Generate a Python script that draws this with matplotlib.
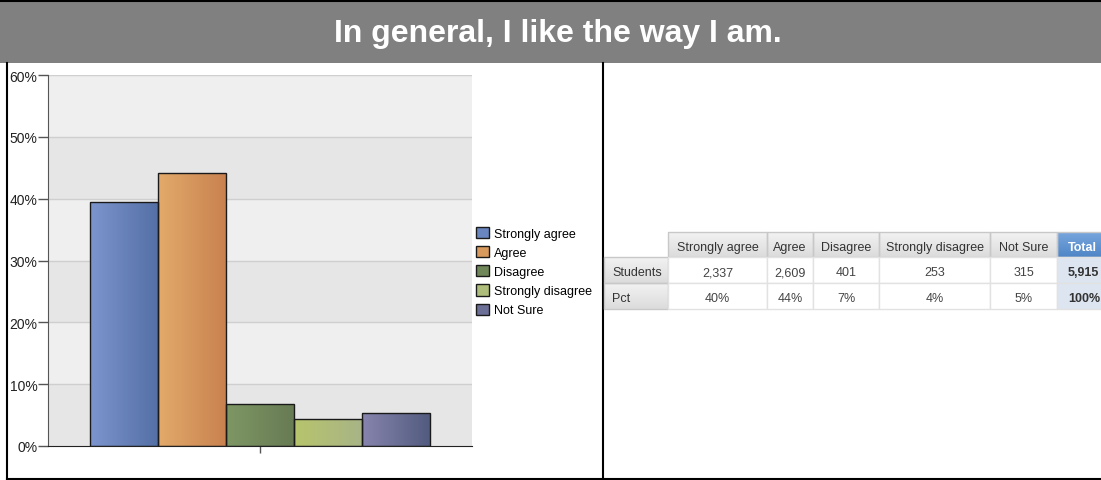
import numpy as np
import matplotlib
matplotlib.use("Agg")
import matplotlib.pyplot as plt
from matplotlib.patches import Rectangle
from matplotlib.colors import LinearSegmentedColormap

plt.rcParams['font.family'] = ['Liberation Sans', 'DejaVu Sans']

# data
title = "In general, I like the way I am."
categories = ["Strongly agree", "Agree", "Disagree", "Strongly disagree", "Not Sure"]
students = [2337, 2609, 401, 253, 315]
pct_values = [39.5, 44.1, 6.8, 4.3, 5.3]
pct_labels = ["40%", "44%", "7%", "4%", "5%"]
total_students = "5,915"
total_pct = "100%"

# gradient colours (left, right) per category
grad_colors = [("#7d95ce", "#5470a5"),
               ("#e2aa6b", "#c9824f"),
               ("#7e9764", "#687b54"),
               ("#b7c56c", "#a8b486"),
               ("#8784ae", "#525c7f")]
legend_colors = ["#6a86c0", "#d99a5e", "#6f8759", "#b0be7c", "#6c7096"]

W, H = 1101, 481
fig = plt.figure(figsize=(W / 100, H / 100), dpi=100)

# overlay in pixel coordinates for frame, title bar and table
ov = fig.add_axes([0, 0, 1, 1], zorder=0)
ov.set_xlim(0, W)
ov.set_ylim(H, 0)
ov.axis('off')

ov.add_patch(Rectangle((0, 3), W, 61, facecolor="#808080", edgecolor="none"))
ov.plot([0, W], [1.5, 1.5], color="black", lw=1.5)
ov.plot([7, 7], [64, 480], color="black", lw=1.5)
ov.plot([7, W], [479.5, 479.5], color="black", lw=1.5)
ov.plot([603, 603], [64, 480], color="black", lw=1.5)
ov.text(558, 34, title, color="white", fontsize=23, fontweight="bold",
        ha="center", va="center")

# table
col_edges = [604, 668, 767, 813, 879, 990, 1057, 1110]
row_edges = [233, 258, 284, 310]
hdr_grad = LinearSegmentedColormap.from_list("h", ["#f2f2f2", "#dcdcdc"])
tot_grad = LinearSegmentedColormap.from_list("t", ["#78a6de", "#4f86c6"])
vgrad = np.linspace(0, 1, 32).reshape(-1, 1)

def cell(x0, x1, y0, y1, fc, ec="#d4d4d4", cmap=None):
    r = Rectangle((x0, y0), x1 - x0, y1 - y0, facecolor=fc if cmap is None else "none",
                  edgecolor=ec, lw=1, zorder=2)
    ov.add_patch(r)
    if cmap is not None:
        ov.imshow(vgrad, cmap=cmap, aspect="auto", extent=[x0, x1, y1, y0], zorder=1)

# header row
for i, cat in enumerate(categories):
    x0, x1 = col_edges[i + 1], col_edges[i + 2]
    cell(x0, x1, row_edges[0], row_edges[1], None, "#c8c8c8", hdr_grad)
    ov.text((x0 + x1) / 2, (row_edges[0] + row_edges[1]) / 2 + 1, cat,
            fontsize=9, color="#333333", ha="center", va="center_baseline", zorder=3)
cell(col_edges[6], col_edges[7], row_edges[0], row_edges[1], None, "#c8c8c8", tot_grad)
ov.text(col_edges[6] + 11, (row_edges[0] + row_edges[1]) / 2 + 1, "Total",
        fontsize=9, color="white", fontweight="bold", ha="left",
        va="center_baseline", zorder=3)

row_names = ["Students", "Pct"]
row_vals = [[f"{v:,}" for v in students], pct_labels]
row_tot = [total_students, total_pct]
for r in range(2):
    y0, y1 = row_edges[r + 1], row_edges[r + 2]
    ym = (y0 + y1) / 2 + 1
    cell(col_edges[0], col_edges[1], y0, y1, None, "#c8c8c8", hdr_grad)
    ov.text(col_edges[0] + 8, ym, row_names[r], fontsize=9, color="#333333",
            ha="left", va="center_baseline", zorder=3)
    for i, v in enumerate(row_vals[r]):
        x0, x1 = col_edges[i + 1], col_edges[i + 2]
        cell(x0, x1, y0, y1, "white", "#e2e2e2")
        ov.text((x0 + x1) / 2, ym, v, fontsize=9, color="#444444",
                ha="center", va="center_baseline", zorder=3)
    cell(col_edges[6], col_edges[7], y0, y1, "#dce5f0", "#e2e2e2")
    ov.text(col_edges[6] + 11, ym, row_tot[r], fontsize=9, color="#333333",
            fontweight="bold", ha="left", va="center_baseline", zorder=3)

ov.set_xlim(0, W)
ov.set_ylim(H, 0)

# bar chart
ax = fig.add_axes([48 / W, (H - 447) / H, (472 - 48) / W, (447 - 76) / H], zorder=1)
ax.set_facecolor("none")
ymax = 60
for k in range(0, ymax, 10):
    ax.axhspan(k, k + 10, color="#e6e6e6" if (k // 10) % 2 == 0 else "#efefef",
               zorder=0, lw=0)
for k in range(10, ymax + 1, 10):
    ax.axhline(k, color="#cfcfcf", lw=1, zorder=0.5)

pos = np.arange(len(categories)) - 2
bars = ax.bar(pos, pct_values, width=1.0, facecolor="none",
              edgecolor="#1a1a1a", lw=1, zorder=3)
grad = np.linspace(0, 1, 64).reshape(1, -1)
for b, (c0, c1) in zip(bars, grad_colors):
    cm = LinearSegmentedColormap.from_list("g", [c0, c1])
    x0 = b.get_x()
    im = ax.imshow(grad, cmap=cm, aspect="auto", zorder=2,
                   extent=[x0, x0 + b.get_width(), 0, b.get_height()])
    im.set_clip_path(b)

xl = 2.5 + 42 / 68
ax.set_xlim(-xl, xl)
ax.set_ylim(0, ymax)
ax.set_yticks(range(0, ymax + 1, 10))
ax.set_yticklabels([f"{k}%" for k in range(0, ymax + 1, 10)], fontsize=10, color="#222222")
ax.set_xticks([0])
ax.set_xticklabels([""])
ax.tick_params(axis="y", length=7.2, width=1, color="#555555", pad=0.5)
ax.tick_params(axis="x", length=5, width=1, color="#555555")
for s in ["top", "right"]:
    ax.spines[s].set_visible(False)
ax.spines["left"].set_color("#555555")
ax.spines["bottom"].set_color("#222222")

handles = [Rectangle((0, 0), 1, 1, facecolor=c, edgecolor="#1a1a1a", lw=1)
           for c in legend_colors]
fig.legend(handles, categories, loc="upper left",
           bbox_to_anchor=(476 / W, 1 - 228 / H), frameon=False,
           fontsize=9, handlelength=1.0, handleheight=1.0,
           handletextpad=0.45, labelspacing=0.5, borderpad=0, borderaxespad=0)

fig.savefig("out.png", dpi=100)
